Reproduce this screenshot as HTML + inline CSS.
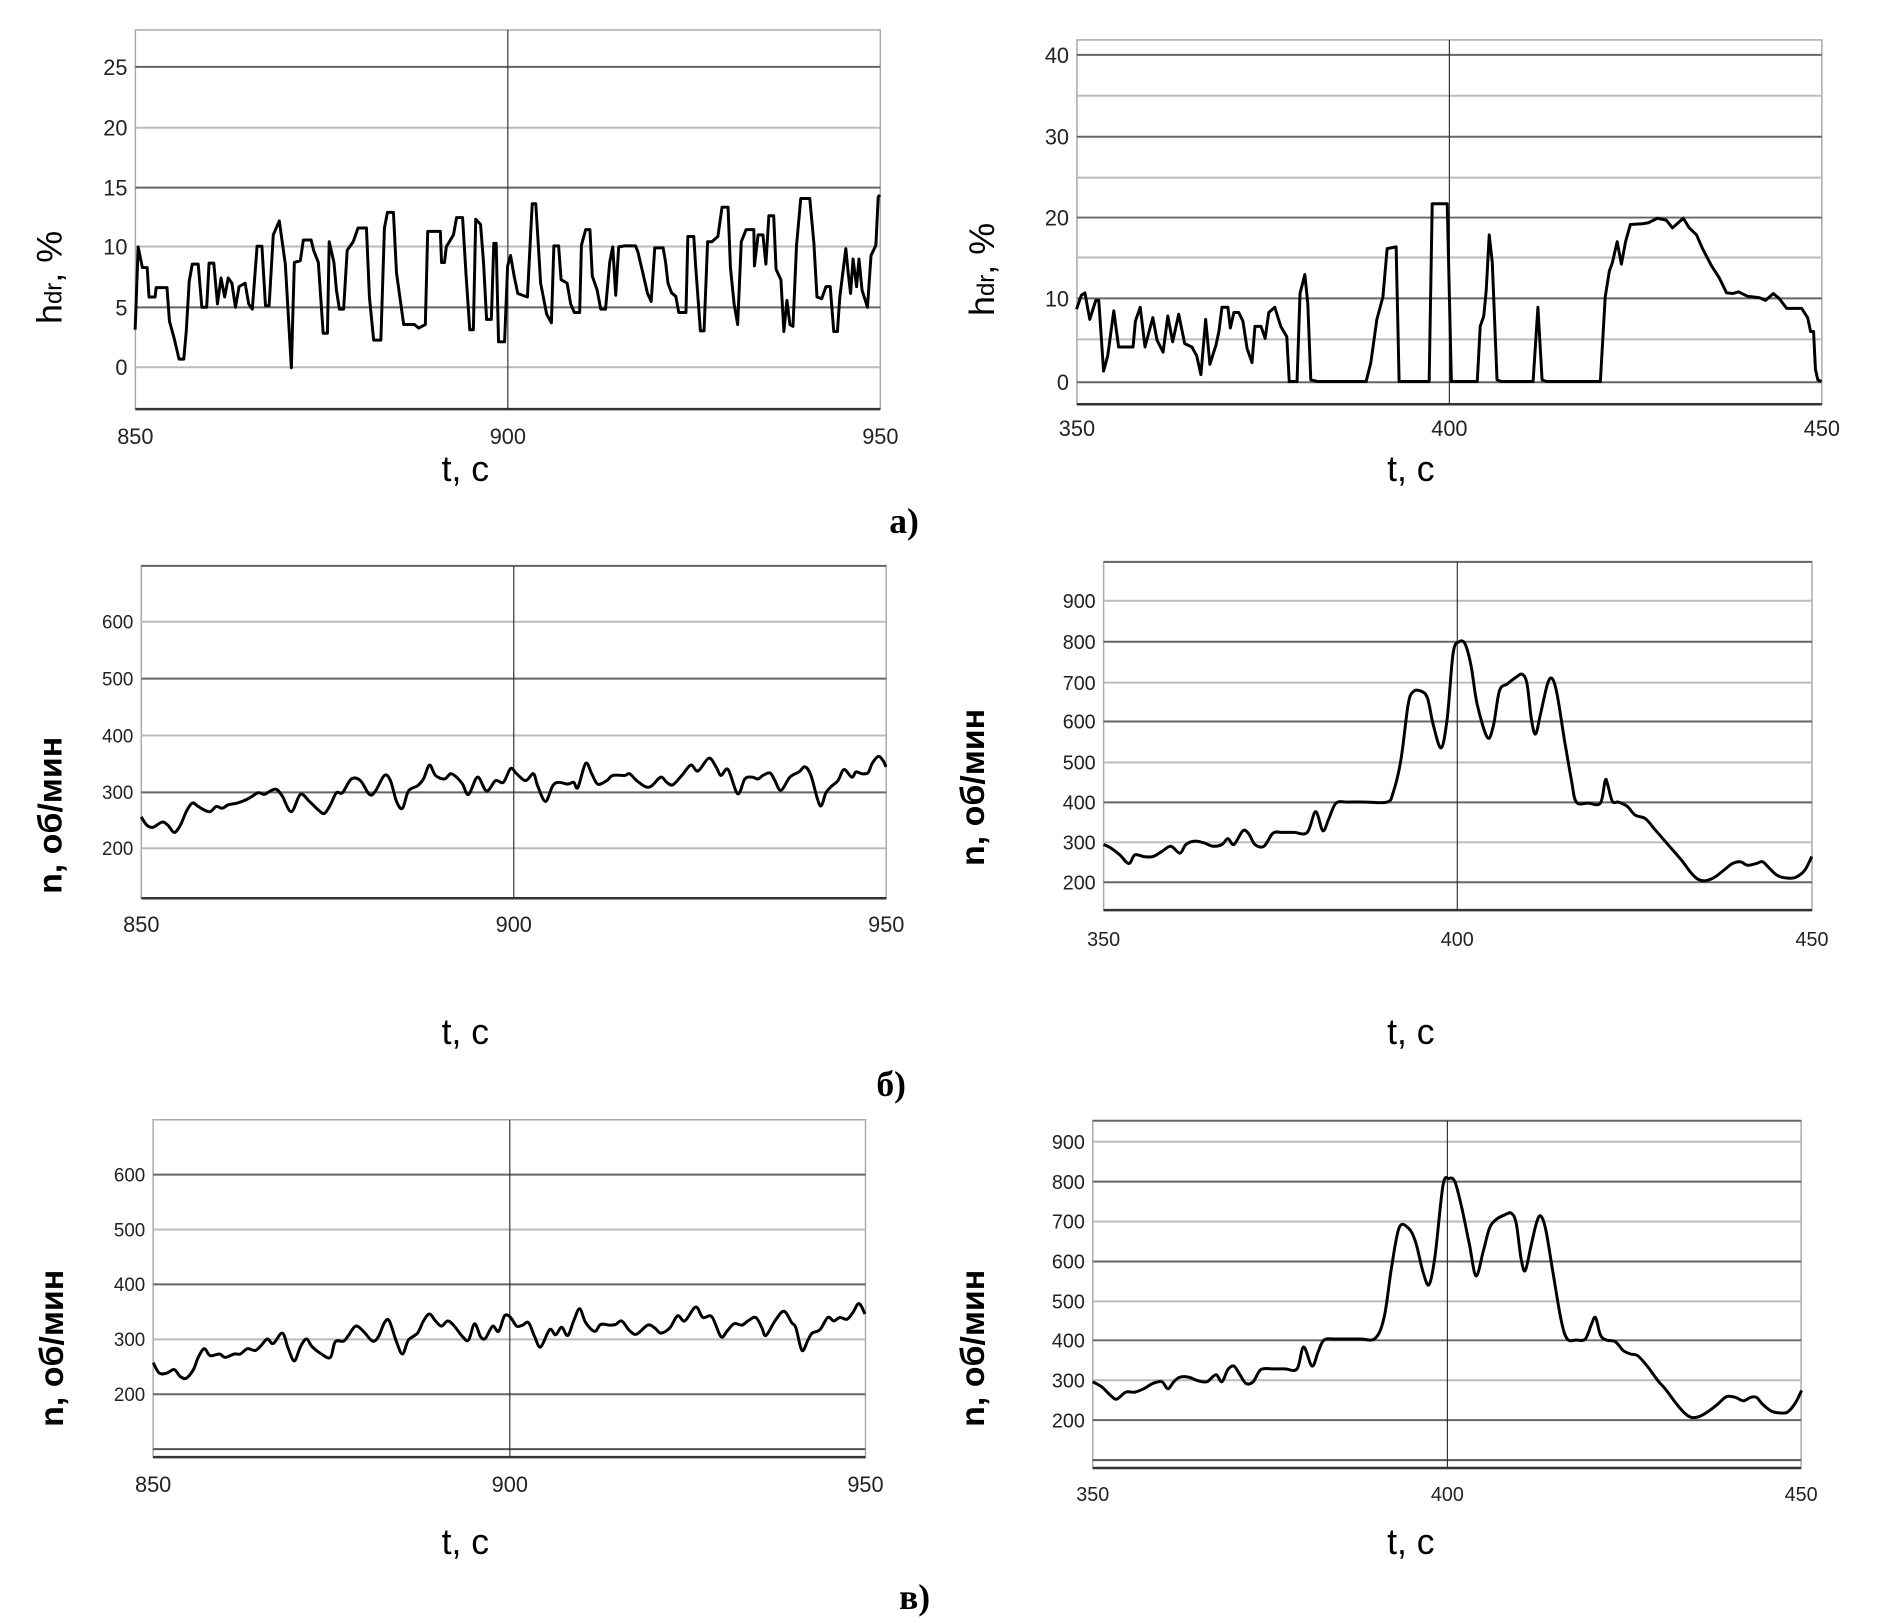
<!DOCTYPE html>
<html><head><meta charset="utf-8">
<style>
html,body{margin:0;padding:0;background:#fff;}
svg{display:block;}
.tk{font-family:"Liberation Sans",sans-serif;fill:#222;}
.ax{font-family:"Liberation Sans",sans-serif;font-size:36px;fill:#000;}
.yl{font-family:"Liberation Sans","DejaVu Sans",sans-serif;font-weight:bold;font-size:34px;fill:#000;}
.lt{font-family:"Liberation Serif",serif;font-weight:bold;font-size:36px;fill:#000;}
</style></head>
<body>
<svg id="s" width="1880" height="1623" viewBox="0 0 1880 1623" xmlns="http://www.w3.org/2000/svg">
<rect width="1880" height="1623" fill="#fff"/>
<g transform="scale(0.988,0.998)">
<g id="g"></g>
<g id="g2" transform="translate(11,0)">
<text class="ax" x="1417" y="482" text-anchor="middle">t, c</text>
<text class="ax" x="1417" y="1046" text-anchor="middle">t, c</text>
<text class="ax" x="1417" y="1557" text-anchor="middle">t, c</text>
<text class="ax" transform="translate(995,270) rotate(-90)" text-anchor="middle" style="font-size:36px">h<tspan style="font-size:24px">dr</tspan>, %</text>
<text class="yl" transform="translate(985,789) rotate(-90)" text-anchor="middle">n, об/мин</text>
<text class="yl" transform="translate(985,1351) rotate(-90)" text-anchor="middle">n, об/мин</text>
</g>
<text class="ax" x="471" y="482" text-anchor="middle">t, c</text>
<text class="ax" x="471" y="1046" text-anchor="middle">t, c</text>
<text class="ax" x="471" y="1557" text-anchor="middle">t, c</text>
<text class="ax" transform="translate(62,278) rotate(-90)" text-anchor="middle" style="font-size:36px">h<tspan style="font-size:24px">dr</tspan>, %</text>
<text class="yl" transform="translate(62,817) rotate(-90)" text-anchor="middle">n, об/мин</text>
<text class="yl" transform="translate(64,1351) rotate(-90)" text-anchor="middle">n, об/мин</text>
<text class="lt" x="900" y="534">a)</text>
<text class="lt" x="887" y="1098">б)</text>
<text class="lt" x="910" y="1612">в)</text>
</g>
</svg>
<script>
var NS="http://www.w3.org/2000/svg",G1=document.getElementById("g"),G2=document.getElementById("g2"),G=G1;
function el(t,a,txt){var e=document.createElementNS(NS,t);for(var k in a)e.setAttribute(k,a[k]);if(txt!=null)e.textContent=txt;G.appendChild(e);return e;}
function chart(c){
 G=c.ox>0?G2:G1;
 el("rect",{x:c.x1,y:c.y1,width:c.x2-c.x1,height:c.y2-c.y1,fill:"none",stroke:"#aaa","stroke-width":1.5});
 c.grid.forEach(function(g,i){
  el("line",{x1:c.x1,x2:c.x2,y1:g[0],y2:g[0],stroke:(i%2?"#bbb":"#666"),"stroke-width":2});
  if(g[1]!=null) el("text",{x:c.x1-8,y:g[0]+c.fs*0.36,"text-anchor":"end","class":"tk","font-size":c.fs},g[1]);
 });
 (c.extra||[]).forEach(function(y){el("line",{x1:c.x1,x2:c.x2,y1:y,y2:y,stroke:"#555","stroke-width":2});});
 el("line",{x1:c.x1,x2:c.x2,y1:c.y2,y2:c.y2,stroke:"#333","stroke-width":2.5});
 el("line",{x1:c.xm,x2:c.xm,y1:c.y1,y2:c.y2,stroke:"#333","stroke-width":1.2});
 c.xl.forEach(function(l){el("text",{x:l[0],y:c.ly,"text-anchor":"middle","class":"tk","font-size":c.xfs},l[1]);});
 var p=c.pts.map(function(q){return [q[0]*0.608+c.ox,q[1]*c.sy+c.oy];});
 var d;
 if(!c.smooth){d="M"+p.map(function(q){return q[0].toFixed(1)+","+q[1].toFixed(1);}).join(" L");}
 else{d="M"+p[0][0].toFixed(1)+","+p[0][1].toFixed(1);
  for(var i=0;i<p.length-1;i++){var a=p[Math.max(0,i-1)],b=p[i],e=p[i+1],f=p[Math.min(p.length-1,i+2)];
   var c1=[b[0]+(e[0]-a[0])/6,b[1]+(e[1]-a[1])/6],c2=[e[0]-(f[0]-b[0])/6,e[1]-(f[1]-b[1])/6];
   d+=" C"+c1[0].toFixed(1)+","+c1[1].toFixed(1)+" "+c2[0].toFixed(1)+","+c2[1].toFixed(1)+" "+e[0].toFixed(1)+","+e[1].toFixed(1);}
 }
 el("path",{d:d,fill:"none",stroke:"#000","stroke-width":3,"stroke-linejoin":"round"});
}
chart({x1:137,x2:891,y1:30,y2:410,xm:514,ox:0,oy:0,sy:0.346,fs:22,xfs:22,ly:445,
 grid:[[67,"25"],[128,"20"],[188,"15"],[247,"10"],[308,"5"],[368,"0"]],
 xl:[[137,"850"],[514,"900"],[891,"950"]],
 pts:[[225,955],[230,715],[237,775],[245,775],[248,860],[258,860],[260,833],[278,833],[282,930],[290,980],[298,1040],[306,1040],[310,960],[315,815],[320,765],[330,765],[336,890],[344,890],[348,762],[356,762],[362,880],[368,805],[374,860],[380,805],[386,820],[392,890],[398,830],[408,820],[414,880],[420,895],[428,713],[436,713],[442,885],[448,885],[455,680],[465,640],[475,765],[485,1065],[490,760],[500,755],[505,695],[518,695],[522,725],[530,760],[538,965],[545,965],[548,700],[556,760],[560,840],[565,895],[572,895],[578,725],[588,700],[596,660],[610,660],[615,860],[622,985],[634,985],[640,660],[645,615],[655,615],[660,790],[672,940],[690,940],[697,950],[708,940],[712,670],[733,670],[735,760],[740,760],[743,715],[755,680],[760,630],[770,630],[776,800],[782,955],[788,955],[792,635],[800,650],[805,760],[810,925],[818,925],[822,705],[826,705],[830,990],[840,990],[845,770],[850,740],[856,800],[862,850],[878,860],[886,590],[892,590],[900,820],[910,910],[918,935],[922,712],[930,712],[934,810],[944,820],[950,880],[956,905],[965,905],[968,710],[975,665],[982,665],[986,800],[994,840],[1000,895],[1008,895],[1015,760],[1020,715],[1025,855],[1030,715],[1040,712],[1058,712],[1062,730],[1070,790],[1078,850],[1084,873],[1090,718],[1104,718],[1108,760],[1112,820],[1118,848],[1125,858],[1130,905],[1142,905],[1145,685],[1155,685],[1158,770],[1166,958],[1172,958],[1178,700],[1185,700],[1195,685],[1202,600],[1212,600],[1216,775],[1222,880],[1228,940],[1234,700],[1242,665],[1255,665],[1256,770],[1262,680],[1270,680],[1275,765],[1280,625],[1288,625],[1292,780],[1300,810],[1305,960],[1310,870],[1315,940],[1320,945],[1326,710],[1333,575],[1348,575],[1355,705],[1360,860],[1368,865],[1375,830],[1382,830],[1388,960],[1394,960],[1398,860],[1408,720],[1412,790],[1416,850],[1420,750],[1426,830],[1430,750],[1435,840],[1444,890],[1450,740],[1458,710],[1462,570],[1465,565]]});
chart({x1:1079,x2:1833,y1:40,y2:405,xm:1456,ox:940,oy:0,sy:0.346,fs:22,xfs:22,ly:437,
 grid:[[55,"40"],[96,null],[137,"30"],[178,null],[218,"20"],[258,null],[299,"10"],[340,null],[383,"0"]],
 xl:[[1079,"350"],[1456,"400"],[1833,"450"]],
 pts:[[228,895],[236,855],[242,848],[250,925],[260,870],[265,870],[273,1075],[280,1030],[290,900],[298,1005],[310,1005],[322,1005],[326,930],[334,890],[342,1005],[355,920],[362,985],[372,1020],[380,915],[388,990],[398,910],[408,995],[420,1005],[428,1030],[435,1085],[443,925],[450,1055],[460,1000],[465,960],[470,890],[480,890],[484,950],[490,905],[498,905],[505,930],[512,1010],[520,1050],[525,945],[535,945],[542,980],[548,905],[558,890],[568,945],[578,975],[582,1105],[595,1105],[600,850],[608,795],[613,880],[618,1100],[630,1105],[710,1105],[718,1050],[728,925],[738,860],[745,720],[760,715],[765,1105],[815,1105],[820,590],[845,590],[852,1105],[895,1105],[900,945],[906,915],[910,840],[915,680],[920,760],[928,1100],[935,1105],[988,1105],[996,890],[1003,1100],[1010,1105],[1100,1105],[1108,860],[1115,785],[1120,760],[1128,700],[1135,765],[1142,700],[1150,650],[1170,648],[1180,645],[1195,632],[1210,638],[1220,660],[1238,632],[1248,660],[1260,680],[1270,720],[1285,770],[1298,805],[1310,848],[1320,850],[1330,845],[1345,858],[1355,860],[1365,862],[1375,870],[1388,850],[1398,865],[1410,893],[1420,893],[1435,893],[1445,920],[1450,960],[1455,960],[1458,1070],[1462,1100],[1468,1105]]});
chart({x1:143,x2:897,y1:567,y2:900,xm:520,ox:0,oy:540,sy:0.346,fs:19,xfs:22,ly:934,smooth:1,
 grid:[[567,null],[623,"600"],[680,"500"],[737,"400"],[794,"300"],[850,"200"]],
 xl:[[143,"850"],[520,"900"],[897,"950"]],
 pts:[[235,805],[245,830],[255,835],[270,820],[280,830],[290,850],[300,830],[310,790],[320,765],[330,775],[340,785],[350,790],[360,775],[370,780],[380,770],[395,765],[410,755],[420,745],[430,735],[440,740],[450,730],[460,725],[470,745],[485,790],[500,740],[515,760],[530,785],[540,795],[550,770],[560,735],[570,735],[585,695],[600,700],[615,740],[625,730],[640,685],[650,700],[660,760],[670,780],[680,730],[695,715],[705,695],[715,655],[725,685],[740,695],[750,680],[760,690],[770,710],[780,740],[795,690],[810,730],[825,700],[838,705],[850,665],[860,680],[875,700],[888,680],[895,715],[908,760],[920,715],[930,705],[945,710],[955,705],[962,720],[975,650],[985,680],[995,710],[1010,700],[1020,685],[1040,685],[1048,680],[1060,700],[1075,718],[1085,715],[1100,690],[1110,705],[1120,712],[1135,685],[1150,655],[1162,672],[1180,635],[1192,660],[1200,685],[1212,668],[1228,738],[1240,695],[1252,690],[1262,695],[1270,685],[1282,678],[1290,700],[1300,728],[1315,690],[1330,675],[1340,660],[1350,685],[1365,772],[1375,735],[1385,715],[1395,700],[1405,668],[1418,690],[1425,675],[1435,680],[1445,677],[1452,650],[1462,630],[1470,642],[1475,660]]});
chart({x1:1106,x2:1823,y1:563,y2:912,xm:1464,ox:940,oy:540,sy:0.346,fs:20,xfs:20,ly:948,smooth:1,
 grid:[[563,null],[602,"900"],[643,"800"],[684,"700"],[723,"600"],[764,"500"],[804,"400"],[844,"300"],[884,"200"]],
 xl:[[1106,"350"],[1464,"400"],[1823,"450"]],
 pts:[[273,885],[285,895],[300,915],[315,940],[325,915],[340,920],[355,920],[370,905],[385,890],[400,910],[410,885],[425,875],[440,880],[455,890],[470,885],[480,868],[490,885],[505,845],[515,855],[525,885],[540,890],[555,852],[570,850],[590,850],[612,850],[626,790],[638,845],[648,810],[660,765],[680,762],[710,762],[745,762],[755,735],[768,640],[780,480],[788,443],[800,440],[812,460],[822,540],[835,605],[845,520],[855,330],[865,298],[875,305],[885,370],[895,480],[912,575],[922,540],[932,440],[945,420],[960,400],[970,392],[978,420],[985,520],[992,565],[1000,510],[1012,420],[1020,405],[1028,450],[1040,580],[1052,700],[1060,762],[1080,765],[1100,765],[1108,700],[1112,710],[1120,760],[1130,762],[1145,775],[1158,800],[1175,810],[1190,840],[1205,870],[1220,900],[1235,930],[1250,965],[1262,985],[1275,990],[1290,980],[1305,960],[1320,940],[1333,935],[1345,945],[1360,940],[1370,935],[1382,955],[1395,975],[1410,982],[1425,980],[1440,960],[1452,920]]});
chart({x1:155,x2:876,y1:1122,y2:1460,xm:516,ox:0,oy:1080,sy:0.348,fs:19,xfs:22,ly:1495,smooth:1,extra:[1452],
 grid:[[1177,"600"],[1232,"500"],[1287,"400"],[1342,"300"],[1397,"200"]],
 xl:[[155,"850"],[516,"900"],[876,"950"]],
 pts:[[255,820],[265,850],[278,850],[290,840],[300,860],[310,865],[322,840],[330,805],[340,780],[350,800],[365,795],[375,805],[390,795],[400,795],[412,780],[425,785],[435,770],[445,752],[455,765],[470,735],[480,780],[490,815],[500,775],[510,752],[520,775],[535,795],[550,805],[558,760],[572,758],[580,742],[592,715],[605,730],[620,758],[630,745],[640,705],[648,700],[660,760],[670,795],[680,755],[695,735],[705,700],[715,680],[725,700],[735,715],[745,700],[755,712],[770,745],[780,755],[790,708],[800,745],[808,750],[820,715],[830,730],[840,685],[850,690],[860,715],[870,712],[880,705],[890,745],[900,775],[915,725],[925,740],[935,718],[945,742],[955,700],[965,665],[975,705],[990,730],[1000,710],[1015,712],[1025,710],[1035,700],[1048,728],[1060,738],[1078,712],[1090,720],[1100,735],[1115,720],[1128,685],[1140,700],[1158,660],[1170,690],[1185,688],[1200,745],[1210,730],[1222,708],[1235,712],[1245,700],[1258,690],[1268,718],[1275,742],[1290,700],[1305,672],[1318,705],[1325,720],[1335,785],[1345,755],[1352,735],[1365,725],[1378,690],[1388,700],[1398,690],[1410,695],[1420,675],[1430,650],[1440,680]]});
chart({x1:1095,x2:1812,y1:1123,y2:1471,xm:1454,ox:940,oy:1080,sy:0.348,fs:20,xfs:20,ly:1504,smooth:1,extra:[1463],
 grid:[[1123,null],[1144,"900"],[1184,"800"],[1224,"700"],[1264,"600"],[1304,"500"],[1343,"400"],[1383,"300"],[1423,"200"]],
 xl:[[1095,"350"],[1454,"400"],[1812,"450"]],
 pts:[[255,875],[270,890],[285,915],[295,925],[310,905],[325,905],[340,895],[355,880],[370,875],[380,895],[390,875],[400,862],[415,862],[430,872],[445,875],[460,855],[470,875],[480,840],[490,830],[500,855],[510,880],[522,875],[535,840],[555,838],[575,838],[595,838],[606,775],[620,830],[630,790],[640,755],[660,752],[700,752],[725,750],[740,690],[752,550],[765,432],[780,432],[792,470],[805,560],[815,595],[825,510],[838,310],[848,290],[858,300],[870,380],[882,480],[893,570],[905,500],[915,435],[925,410],[940,395],[952,390],[960,420],[968,520],[975,555],[985,480],[995,410],[1002,400],[1010,445],[1022,570],[1035,700],[1045,752],[1060,755],[1075,752],[1085,710],[1092,690],[1100,740],[1110,755],[1125,760],[1138,785],[1150,795],[1162,800],[1178,830],[1195,870],[1210,900],[1225,935],[1240,965],[1252,978],[1265,975],[1280,960],[1295,940],[1310,918],[1325,920],[1338,930],[1350,920],[1360,920],[1370,940],[1385,960],[1400,965],[1412,962],[1425,935],[1435,900]]});
</script>
</body></html>
